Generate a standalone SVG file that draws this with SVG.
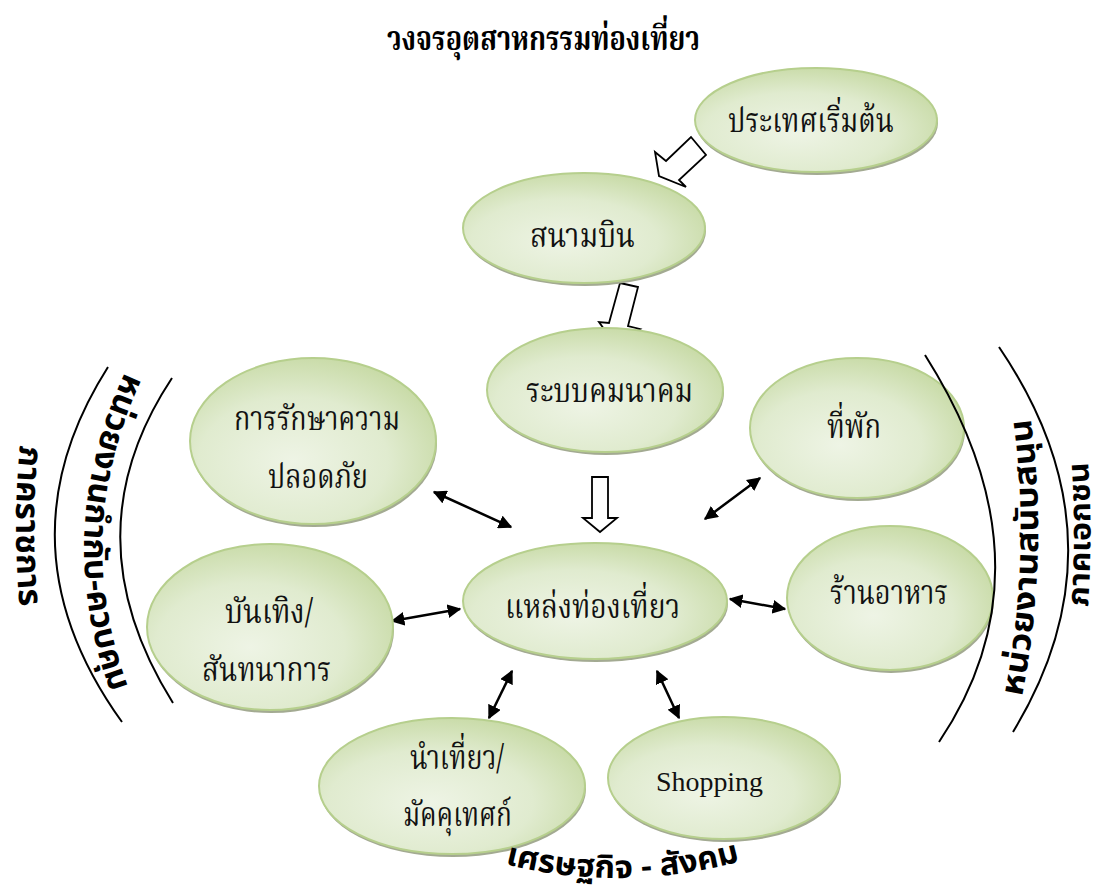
<svg xmlns="http://www.w3.org/2000/svg" width="1104" height="893" viewBox="0 0 1104 893">
<defs>
<radialGradient id="g" cx="0.42" cy="0.62" r="0.7">
<stop offset="0" stop-color="#eef4e5"/>
<stop offset="0.55" stop-color="#e0ebcf"/>
<stop offset="1" stop-color="#c3d79e"/>
</radialGradient>
<marker id="ah" viewBox="0 0 10 10" refX="9" refY="5" markerWidth="5.5" markerHeight="5.5" orient="auto-start-reverse">
<path d="M0,0 L10,5 L0,10 z" fill="#000"/>
</marker>
<path id="pL1" d="M20,445 Q12,527 20,609"/>
<path id="pL2" d="M125,372 Q50,535 113,698"/>
<path id="pR2" d="M1022,697 Q1049,558 1031,420"/>
<path id="pR1" d="M1088,607 Q1093,533 1088,460"/>
<path id="pB" d="M505,864 Q625,894 745,860"/>
</defs>
<style>
.sh{fill:#a3aa92}
.el{fill:url(#g);stroke:#b6cf8d;stroke-width:2}
.t{font-family:"Noto Serif Thai","Noto Sans Thai","Liberation Serif",serif;font-size:34px;fill:#111}
.tb{font-family:"Noto Serif Thai","Noto Sans Thai","Liberation Serif",serif;font-size:33px;font-weight:bold;fill:#000}
.lab{font-family:"Noto Sans Thai","Noto Sans","DejaVu Sans",sans-serif;font-size:33px;font-weight:bold;fill:#000}
.arc{fill:none;stroke:#000;stroke-width:2}
.dbl{fill:none;stroke:#000;stroke-width:2.5;marker-start:url(#ah);marker-end:url(#ah)}
.blk{fill:#fff;stroke:#000;stroke-width:1.8;stroke-linejoin:miter}
</style>
<rect width="1104" height="893" fill="#fff"/>

<text class="tb" x="387" y="50" textLength="313" lengthAdjust="spacingAndGlyphs">วงจรอุตสาหกรรมท่องเที่ยว</text>

<g id="connectors">
<polygon class="blk" points="691,137 706,155 679,180 686,187 659,176 655,152 666,161"/>
<polygon class="blk" points="620,283 638,287 628,326 640,329 614,343 599,322 609,323"/>
<polygon class="blk" points="592,477 608,477 608,518 617,518 600,532 583,518 592,518"/>
<path class="dbl" d="M434,492 L511,527"/>
<path class="dbl" d="M760,478 L705,519"/>
<path class="dbl" d="M392,621 L460,609"/>
<path class="dbl" d="M730,599 L785,609"/>
<path class="dbl" d="M512,671 L489,718"/>
<path class="dbl" d="M657,671 L679,718"/>
</g>

<g id="node-origin">
<ellipse class="sh" cx="817" cy="123" rx="121" ry="52"/>
<ellipse class="el" cx="816" cy="120" rx="121" ry="52"/>
<text class="t" x="728" y="132" textLength="166" lengthAdjust="spacingAndGlyphs">ประเทศเริ่มต้น</text>
</g>
<g id="node-airport">
<ellipse class="sh" cx="585" cy="231" rx="121" ry="55"/>
<ellipse class="el" cx="584" cy="228" rx="121" ry="55"/>
<text class="t" x="530" y="247" textLength="105" lengthAdjust="spacingAndGlyphs">สนามบิน</text>
</g>
<g id="node-transport">
<ellipse class="sh" cx="606" cy="393" rx="118" ry="62"/>
<ellipse class="el" cx="605" cy="390" rx="118" ry="62"/>
<text class="t" x="526" y="402" textLength="167" lengthAdjust="spacingAndGlyphs">ระบบคมนาคม</text>
</g>
<g id="node-lodging">
<ellipse class="sh" cx="858" cy="431" rx="107" ry="70"/>
<ellipse class="el" cx="857" cy="428" rx="107" ry="70"/>
<text class="t" x="827" y="438" textLength="54" lengthAdjust="spacingAndGlyphs">ที่พัก</text>
</g>
<g id="node-safety">
<ellipse class="sh" cx="314" cy="444" rx="123" ry="83"/>
<ellipse class="el" cx="313" cy="441" rx="123" ry="83"/>
<text class="t" x="234" y="430" textLength="166" lengthAdjust="spacingAndGlyphs">การรักษาความ</text>
<text class="t" x="268" y="488" textLength="100" lengthAdjust="spacingAndGlyphs">ปลอดภัย</text>
</g>
<g id="node-entertainment">
<ellipse class="sh" cx="271" cy="630" rx="123" ry="83"/>
<ellipse class="el" cx="270" cy="627" rx="123" ry="83"/>
<text class="t" x="225" y="623" textLength="88" lengthAdjust="spacingAndGlyphs">บันเทิง/</text>
<text class="t" x="202" y="681" textLength="129" lengthAdjust="spacingAndGlyphs">สันทนาการ</text>
</g>
<g id="node-attraction">
<ellipse class="sh" cx="596" cy="604" rx="132" ry="58"/>
<ellipse class="el" cx="595" cy="601" rx="132" ry="58"/>
<text class="t" x="505" y="618" textLength="175" lengthAdjust="spacingAndGlyphs">แหล่งท่องเที่ยว</text>
</g>
<g id="node-restaurant">
<ellipse class="sh" cx="891" cy="601" rx="103" ry="72"/>
<ellipse class="el" cx="890" cy="598" rx="103" ry="72"/>
<text class="t" x="830" y="604" textLength="118" lengthAdjust="spacingAndGlyphs">ร้านอาหาร</text>
</g>
<g id="node-guide">
<ellipse class="sh" cx="453" cy="789" rx="133" ry="68"/>
<ellipse class="el" cx="452" cy="786" rx="133" ry="68"/>
<text class="t" x="410" y="769" textLength="94" lengthAdjust="spacingAndGlyphs">นำเที่ยว/</text>
<text class="t" x="403" y="826" textLength="109" lengthAdjust="spacingAndGlyphs">มัคคุเทศก์</text>
</g>
<g id="node-shopping">
<ellipse class="sh" cx="725" cy="781" rx="116" ry="61"/>
<ellipse class="el" cx="724" cy="778" rx="116" ry="61"/>
<text x="656" y="791" font-family="'Liberation Serif',serif" font-size="28" fill="#111" textLength="107" lengthAdjust="spacingAndGlyphs">Shopping</text>
</g>

<g id="sector-arcs">
<path class="arc" d="M108,367 Q-5,545 122,722"/>
<path class="arc" d="M172,378 Q68,535 173,703"/>
<path class="arc" d="M925,355 Q1058,565 939,742"/>
<path class="arc" d="M999,347 Q1130,540 1013,732"/>
</g>

<g id="sector-labels">
<text class="lab"><textPath href="#pL1" textLength="162" lengthAdjust="spacingAndGlyphs">ภาคราชการ</textPath></text>
<text class="lab"><textPath href="#pL2" textLength="330" lengthAdjust="spacingAndGlyphs">หน่วยงานกำกับ-ควบคุม</textPath></text>
<text class="lab" style="font-size:32px"><textPath href="#pR2" textLength="280" lengthAdjust="spacingAndGlyphs">หน่วยงานสนับสนุน</textPath></text>
<text class="lab" style="font-size:30px"><textPath href="#pR1" textLength="145" lengthAdjust="spacingAndGlyphs">ภาคเอกชน</textPath></text>
<text class="lab" style="font-size:32px"><textPath href="#pB" textLength="238" lengthAdjust="spacingAndGlyphs">เศรษฐกิจ - สังคม</textPath></text>
</g>
</svg>
